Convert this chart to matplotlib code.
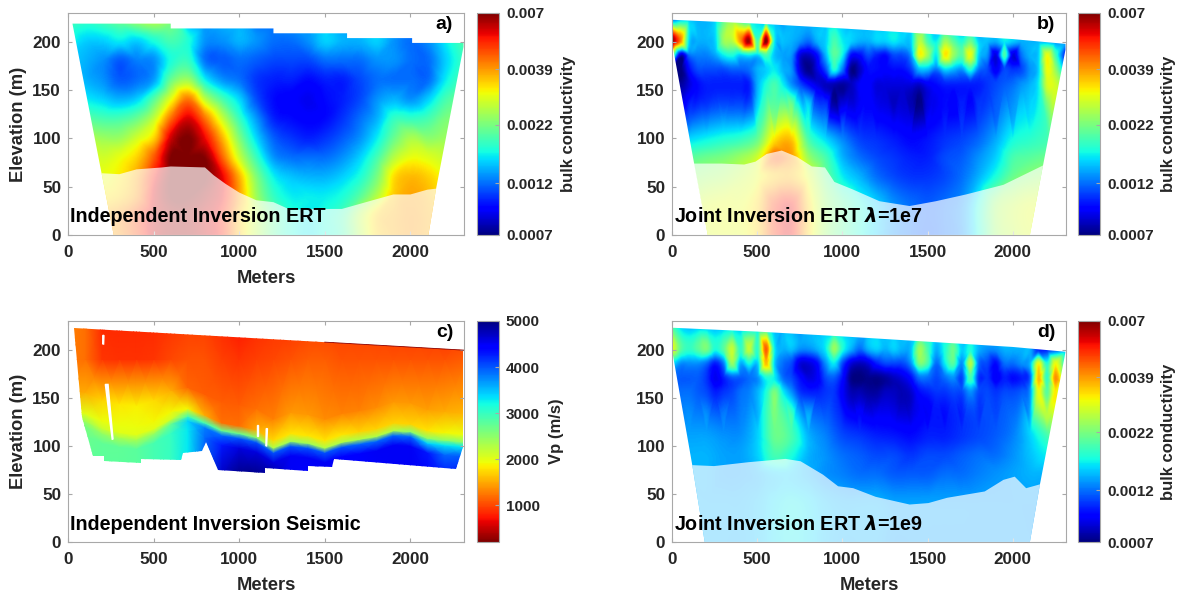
import numpy as np
import matplotlib
matplotlib.use("Agg")
import matplotlib.pyplot as plt
import matplotlib.tri as mtri
from matplotlib.cm import ScalarMappable
from matplotlib.colors import LogNorm, Normalize
from matplotlib.patches import Polygon

plt.rcParams['font.family'] = ['Liberation Sans', 'DejaVu Sans']
plt.rcParams['font.weight'] = 'bold'

W, H = 1182, 599
x_fine = list(range(0, 2300, 50)) + [2320]
x_coarse = list(range(0, 2300, 100)) + [2320]

# conductivities below are in units of 1e-3
# panel a, every row on x_coarse
a_y = [220, 200, 180, 160, 140, 120, 100, 80, 60, 40, 20, 0]
a_rows = [
    [1.9,1.8,1.9,2.1,2.4,2.6,2.2,1.4,1.3,1.4,1.4,1.2,1.2,1.3,1.3,1.5,1.3,1.4,1.5,1.3,1.3,1.4,1.8,2.0],
    [1.7,1.5,1.5,1.6,1.5,1.7,1.9,1.7,1.3,1.3,1.4,1.3,1.2,1.2,1.3,1.5,1.4,1.4,1.5,1.3,1.2,1.3,1.6,2.0],
    [1.5,1.4,1.3,1.15,1.25,1.3,1.7,1.8,1.2,1.15,1.2,1.15,1.1,1.1,1.1,1.2,1.2,1.2,1.3,1.3,1.2,1.2,1.5,1.9],
    [1.6,1.4,1.3,1.15,1.2,1.35,2.1,2.4,1.6,1.3,1.2,1.05,1.0,1.0,0.95,1.0,1.0,1.1,1.2,1.2,1.2,1.2,1.6,2.0],
    [1.8,1.6,1.5,1.4,1.5,2.0,3.0,4.2,2.6,1.9,1.5,1.1,.95,.92,.88,.95,1.0,1.1,1.3,1.4,1.3,1.5,1.9,2.2],
    [2.1,2.0,1.9,1.9,2.1,2.7,4.4,5.8,4.2,2.7,1.8,1.3,1.0,.95,.92,.95,1.05,1.2,1.4,1.8,1.8,1.9,2.2,2.3],
    [2.6,2.6,2.4,2.4,2.8,3.4,6.0,7.0,5.5,3.6,2.2,1.5,1.15,1.05,1.0,1.05,1.15,1.3,1.6,2.1,2.5,2.3,2.4,2.4],
    [3.0,3.0,2.8,3.0,3.4,4.6,7.0,7.0,6.8,4.4,2.7,1.8,1.3,1.2,1.2,1.2,1.3,1.5,1.9,2.6,3.0,2.9,2.7,2.5],
    [3.0,3.0,3.0,3.2,3.8,5.4,7.0,7.0,7.0,5.6,3.6,2.2,1.6,1.45,1.4,1.4,1.5,1.7,2.2,3.3,3.6,3.4,3.0,2.6],
    [3.0,3.0,3.2,3.4,4.0,5.8,7.0,7.0,6.5,5.6,3.8,2.4,1.8,1.6,1.6,1.6,1.7,2.0,2.6,3.5,3.8,3.6,3.2,2.8],
    [3.0,3.0,3.6,4.0,4.8,6.0,6.5,6.5,6.0,5.2,3.5,2.6,2.0,1.7,1.6,1.7,1.9,2.6,3.4,3.7,3.9,3.7,3.5,3.0],
    [3.0,3.0,3.6,4.0,4.8,6.0,6.5,6.5,6.0,5.2,3.5,2.6,2.0,1.7,1.6,1.7,1.9,2.6,3.4,3.7,3.9,3.7,3.5,3.0],
]
a_out_x = [26, 196, 267, 2105, 2150, 2310, 2310, 2010, 2010, 1630, 1630, 1200, 1200, 600, 600, 26]
a_out_y = [219, 64, 0, 0, 48, 195, 199, 199, 204, 204, 209, 209, 214, 214, 219, 219]
a_doi_x = [196,300,400,550,600,800,850,920,1000,1100,1200,1300,1400,1550,1600,1700,1800,1900,2000,2100,2150]
a_doi_y = [64,63,68,70,71,70,62,53,44,36,34,26,27,27,27,32,37,42,42,47,48]

# panel b, shallow rows on x_fine, deep rows on x_coarse
b_fine_y = [224, 200, 185, 170, 155]
b_fine = [
    [1.1,1.3,1.4,1.4,1.4,1.5,2.0,2.2,1.7,1.5,1.5,1.4,1.4,1.3,1.4,1.4,1.4,1.4,1.4,1.5,1.4,1.35,1.35,1.35,1.35,1.35,1.35,1.35,1.35,1.35,1.35,1.35,1.35,1.35,1.35,1.35,1.35,1.35,1.35,1.35,1.35,1.35,1.35,1.35,1.35,1.35,1.35],
    [7.0,4.0,1.5,1.4,1.4,1.5,2.4,2.6,4.0,6.5,1.9,7.0,1.6,1.45,1.4,1.3,1.2,1.4,1.5,1.9,1.6,1.5,1.4,1.4,1.5,1.5,1.6,1.5,1.5,2.6,1.9,1.6,2.4,2.0,1.7,2.1,1.5,1.45,1.4,1.6,1.5,1.4,1.4,1.4,1.4,1.3,1.3],
    [2.2,.8,1.2,1.25,1.25,1.35,1.6,1.7,1.5,1.6,1.5,1.9,1.45,1.35,1.3,.85,.8,.95,1.4,2.0,1.6,.95,.95,1.1,1.0,.95,1.1,1.1,1.3,3.0,2.4,1.6,3.2,2.4,2.0,3.0,1.5,1.3,.85,1.9,.85,1.2,1.4,1.5,3.0,1.9,.85],
    [.75,.7,.95,1.1,1.1,1.1,1.1,1.15,1.15,1.2,1.4,1.5,1.6,1.4,1.3,.85,.72,.85,1.1,1.7,1.2,.72,.8,.95,.95,.92,.95,.95,1.05,1.4,1.4,1.2,1.5,1.4,1.3,1.7,1.2,1.1,.9,1.1,1.05,1.1,1.3,1.5,3.0,2.4,1.2],
    [.8,.75,.85,.95,1.0,1.0,1.0,1.0,1.0,1.0,1.4,1.7,1.9,1.6,1.3,1.1,.95,.85,.8,.78,.75,.8,.9,.92,.85,.85,.85,.85,.85,.82,.9,.95,1.0,1.0,1.0,1.0,1.0,1.05,1.1,1.15,1.2,1.3,1.4,1.6,2.8,2.8,2.0],
]
b_coarse_y = [135, 115, 95, 80, 60, 30, 0]
b_coarse = [
    [1.0,1.0,1.05,1.1,1.1,1.5,2.0,2.1,1.5,1.05,.85,.9,.88,.8,.78,.85,.95,1.0,1.05,1.15,1.3,1.5,2.2,2.6],
    [1.2,1.2,1.3,1.4,1.4,1.8,2.4,2.6,1.7,1.3,1.1,1.0,.95,.9,.88,.92,1.0,1.05,1.1,1.2,1.4,1.6,1.9,2.0],
    [1.5,1.6,1.7,1.8,1.9,2.2,3.4,3.6,2.0,1.6,1.3,1.1,1.05,1.0,.95,.98,1.05,1.1,1.2,1.4,1.7,1.8,1.9,2.0],
    [1.9,2.0,2.1,2.2,2.4,2.8,4.5,3.9,2.4,1.9,1.4,1.2,1.1,1.05,1.0,1.0,1.1,1.15,1.3,1.5,1.9,2.0,2.1,2.2],
    [2.2,2.3,2.4,2.5,2.7,3.0,3.5,3.6,2.9,2.1,1.6,1.4,1.2,1.1,1.05,1.05,1.1,1.2,1.4,1.7,2.1,2.3,2.4,2.4],
    [2.6,2.7,2.9,3.0,3.0,3.4,5.0,5.5,3.4,2.4,2.0,1.7,1.5,1.3,1.2,1.15,1.2,1.3,1.7,2.4,2.7,2.9,2.8,2.6],
    [2.6,2.7,2.9,3.0,3.0,3.4,5.0,5.5,3.4,2.4,2.0,1.7,1.5,1.3,1.2,1.15,1.2,1.3,1.7,2.4,2.7,2.9,2.8,2.6],
]
b_out_x = [0, 0, 15, 130, 210, 2101, 2178, 2310, 2310, 2000, 1500, 1000, 500, 0]
b_out_y = [223, 200, 185, 74, 0, 0, 72, 192, 198, 203, 208.5, 214, 219, 223]
b_doi_x = [126,291,424,490,556,644,733,821,898,953,1064,1218,1395,1549,1726,1946,2178]
b_doi_y = [74,74,73,76,84,87.5,81,71,70,55,47,35,30,35,42,52,72]

# panel d
d_fine_y = [224, 200, 185, 170, 155]
d_fine = [
    [1.9,1.5,1.4,1.45,1.45,1.4,1.45,1.5,1.4,1.45,1.4,1.6,1.4,1.4,1.4,1.3,1.4,1.4,1.4,1.4,1.4,1.4,1.4,1.4,1.4,1.4,1.4,1.4,1.4,1.4,1.4,1.4,1.4,1.4,1.4,1.4,1.4,1.4,1.4,1.4,1.4,1.4,1.4,1.4,1.4,1.4,1.4],
    [3.0,2.0,1.8,2.0,2.2,1.7,2.0,2.7,1.8,2.7,1.8,4.5,1.6,1.4,1.45,1.3,1.3,1.4,1.6,2.4,1.7,1.4,1.2,1.4,1.5,1.4,1.5,1.4,1.45,2.4,1.9,1.4,1.7,2.1,1.5,1.7,1.4,1.3,1.3,1.4,1.4,1.4,1.4,1.0,1.0,1.1,1.3],
    [1.6,1.3,1.3,1.3,1.2,1.0,1.25,2.4,1.4,1.7,1.5,3.6,1.5,1.2,1.1,.85,.85,.95,1.3,1.6,1.1,.85,.8,.85,1.0,1.1,1.1,1.1,1.3,2.2,1.9,1.2,1.6,2.0,1.3,2.6,1.2,1.1,.95,1.2,1.2,1.3,1.4,3.0,1.7,3.0,1.4],
    [1.2,1.15,1.15,1.15,1.05,.88,1.0,1.15,1.15,1.2,1.3,1.7,1.6,1.2,1.1,.95,.85,.9,1.1,1.15,.95,.72,.7,.72,.72,.75,.8,.85,.95,1.2,1.2,1.1,1.2,1.3,1.1,1.9,1.05,1.05,.9,1.0,.95,1.0,1.15,3.6,1.8,4.0,1.5],
    [1.2,1.2,1.2,1.15,1.1,1.0,1.05,1.1,1.2,1.25,1.4,1.7,2.2,1.6,1.3,1.05,1.0,1.0,1.05,1.05,.9,.78,.78,.75,.75,.8,.8,.78,.82,.95,1.0,1.05,1.05,1.1,1.1,1.3,1.1,1.1,1.05,1.1,1.1,1.15,1.3,3.0,2.0,3.2,1.5],
]
d_coarse_y = [130, 110, 90, 70, 40, 0]
d_coarse = [
    [1.3,1.3,1.3,1.25,1.25,1.4,2.2,1.9,1.4,1.15,1.0,.95,.9,.88,.85,.9,.95,1.0,1.05,1.1,1.2,1.4,2.6,2.0],
    [1.35,1.35,1.35,1.3,1.3,1.5,2.1,1.9,1.4,1.25,1.1,1.05,1.0,.98,.95,1.0,1.0,1.05,1.1,1.15,1.25,1.5,1.9,1.7],
    [1.4,1.4,1.4,1.35,1.35,1.5,1.9,1.7,1.4,1.3,1.2,1.15,1.1,1.1,1.05,1.1,1.1,1.15,1.2,1.2,1.3,1.45,1.6,1.5],
    [1.4,1.4,1.4,1.35,1.35,1.4,1.5,1.5,1.4,1.3,1.25,1.2,1.2,1.15,1.15,1.15,1.2,1.2,1.25,1.3,1.35,1.4,1.4,1.4],
    [1.4,1.4,1.4,1.4,1.4,1.45,1.55,1.6,1.55,1.45,1.4,1.4,1.4,1.35,1.35,1.35,1.35,1.35,1.35,1.35,1.35,1.35,1.35,1.35],
    [1.4,1.4,1.4,1.4,1.4,1.45,1.55,1.6,1.55,1.45,1.4,1.4,1.4,1.35,1.35,1.35,1.35,1.35,1.35,1.35,1.35,1.35,1.35,1.35],
]
d_out_x = [0, 0, 119, 192, 2101, 2160, 2304, 2310, 2000, 1500, 1000, 500, 0]
d_out_y = [223, 200, 80, 0, 0, 60, 192, 198, 203, 208.5, 214, 219, 223]
d_doi_x = [119,247,446,666,755,887,975,1064,1196,1395,1505,1615,1836,1946,2012,2079,2160]
d_doi_y = [80,79,83,86.5,84,70,58,56,47,39,40.5,46,52.6,64.7,68,56,60]

# panel c, velocity layers that follow the high velocity interface
c_iface = [129,126,118,114,112,118,128,131,124,116,113,109,98,105,103,98,104,107,110,116,115,108,106,104]
c_top = [1300,1200,850,850,850,850,900,950,950,850,750,850,900,900,950,950,950,950,950,900,900,900,850,850]
c_upper = [1250,1200,900,880,880,900,1000,1050,1050,950,900,950,1000,1050,1100,1100,1050,1050,1050,1050,1050,1050,1050,1100]
c_above = [1400,1500,1700,1800,1850,1750,1500,1150,1100,1100,1100,1200,1300,1400,1400,1350,1300,1300,1350,1400,1400,1450,1500,1550]
c_near = [2000,2000,1950,1950,1950,1900,1900,1900,1500,1200,1200,1500,1750,1800,1800,1800,1800,1700,1700,1700,1700,1800,1900,1950]
c_at = [2500,2400,2150,2000,2000,2000,2100,2900,2900,2700,2700,2500,2300,2400,2400,2300,2300,2300,2300,2300,2500,2500,2500,2500]
c_below = [2600,2600,2450,2300,2300,2400,2700,3400,3800,3900,4000,4000,4000,4000,4000,4000,4000,3900,3900,3900,3900,3400,3300,3300]
c_deep = [2700,2700,2750,2750,2800,2900,3000,3300,3900,4300,4600,4600,4600,4500,4500,4500,4400,4400,4500,4500,4500,4300,3900,4000]
c_base = [2800,2800,2800,2800,2800,2900,3000,3300,4000,4700,4950,4950,4850,4500,4400,4500,4400,4400,4400,4500,4500,4400,4300,4300]
c_out_x = [35,80,146,212,212,424,424,660,671,781,808,876,1152,1152,1399,1404,1543,1554,2267,2310,2310]
c_out_y = [223,130,89,89,84,82,86.5,85.5,93,95,104,75,72,77,74,79,78,86,76,99,199.7]
c_slits = [
    ([203,210,208,203], [215,215,206,206]),
    ([218,234,263,258], [164,164,107,107]),
    ([1103,1108,1108,1103], [122,122,110,110]),
    ([1158,1165,1160,1156], [118,118,100,100]),
]

cond_ticks = [0.0007, 0.0012, 0.0022, 0.0039, 0.007]
cond_labels = ['0.0007', '0.0012', '0.0022', '0.0039', '0.007']
vp_ticks = [1000, 2000, 3000, 4000, 5000]
x_ticks = [0, 500, 1000, 1500, 2000]
y_ticks = [0, 50, 100, 150, 200]
GRAY = '#a8a8a8'
TXT = '#262626'


def make_axes(fig, l, r, t, b):
    return fig.add_axes([l / W, 1 - b / H, (r - l) / W, (b - t) / H])


def style(ax, xlabel, ylabel):
    ax.set_xlim(0, 2313)
    ax.set_ylim(0, 230)
    ax.set_aspect('auto')
    ax.set_xticks(x_ticks)
    ax.set_yticks(y_ticks)
    ax.tick_params(direction='in', length=3, color=GRAY, labelsize=12.3, labelcolor=TXT, top=True, right=True)
    ax.tick_params(axis='x', pad=7)
    ax.tick_params(axis='y', pad=5)
    for s in ax.spines.values():
        s.set_color(GRAY)
    if xlabel:
        ax.set_xlabel('Meters', fontsize=13.2, color=TXT, fontweight='bold', va='center')
        ax.xaxis.set_label_coords(0.5, -0.195)
    if ylabel:
        ax.set_ylabel('Elevation (m)', fontsize=13.2, color=TXT, fontweight='bold', va='center')
        ax.yaxis.set_label_coords(-0.125, 0.5)


def draw_field(ax, px, py, pv, out_x, out_y, doi_x, doi_y):
    # smooth surface through the picked values, then one image clipped to the section
    tr = mtri.Triangulation(px, py)
    smooth = mtri.CubicTriInterpolator(tr, np.log10(pv), kind='geom')
    gx, gy = np.meshgrid(np.arange(0, 2320, 6.0), np.arange(0, 225, 1.0))
    img = ax.imshow(smooth(gx, gy), origin='lower', extent=[0, 2320, 0, 225], cmap='jet',
                    vmin=np.log10(0.7), vmax=1 + np.log10(0.7), interpolation='bilinear')
    clip = Polygon(np.column_stack([out_x, out_y]), closed=True, facecolor='none', edgecolor='none')
    ax.add_patch(clip)
    img.set_clip_path(clip)
    # zone below depth of investigation is washed out
    i0 = list(out_y).index(0)
    wx = doi_x + [out_x[i0 + 1], out_x[i0]]
    wy = doi_y + [0, 0]
    ax.fill(wx, wy, facecolor='white', edgecolor='none', alpha=0.7, zorder=3)


def points(rows_y, rows, xs):
    px, py, pv = [], [], []
    for y, row in zip(rows_y, rows):
        px.extend(xs)
        py.extend([y] * len(xs))
        pv.extend(row)
    return px, py, pv


def finish_bar(cb, label, label_x, width):
    cb.ax.tick_params(length=3, direction='in', color=GRAY, labelsize=11, labelcolor=TXT, pad=5)
    cb.outline.set_edgecolor(GRAY)
    cb.set_label(label, fontsize=12, color=TXT, fontweight='bold', va='center')
    cb.ax.yaxis.set_label_coords(label_x / width, 0.5)


def cond_bar(fig, l, r, t, b, label_x):
    cax = make_axes(fig, l, r, t, b)
    sm = ScalarMappable(norm=LogNorm(0.0007, 0.007), cmap='jet')
    cb = fig.colorbar(sm, cax=cax)
    cb.set_ticks(cond_ticks, labels=cond_labels)
    cb.minorticks_off()
    finish_bar(cb, 'bulk conductivity', label_x, r - l)


fig = plt.figure(figsize=(W / 100, H / 100), dpi=100)

# a
ax = make_axes(fig, 68, 464, 13, 235)
px, py, pv = points(a_y, a_rows, x_coarse)
draw_field(ax, px, py, pv, a_out_x, a_out_y, a_doi_x, a_doi_y)
style(ax, True, True)
ax.text(10, 19, 'Independent Inversion ERT', fontsize=14.2, color='black', va='center', zorder=5)
ax.text(2250, 218, 'a)', fontsize=14, color='black', ha='right', va='center', zorder=5)
cond_bar(fig, 477, 499, 13, 235, 92)

# b
ax = make_axes(fig, 672, 1066, 13, 235)
p1 = points(b_fine_y, b_fine, x_fine)
p2 = points(b_coarse_y, b_coarse, x_coarse)
draw_field(ax, p1[0] + p2[0], p1[1] + p2[1], p1[2] + p2[2], b_out_x, b_out_y, b_doi_x, b_doi_y)
style(ax, False, False)
ax.text(10, 19, r'Joint Inversion ERT $\lambda$=1e7', fontsize=14.2, color='black', va='center', zorder=5)
ax.text(2250, 218, 'b)', fontsize=14, color='black', ha='right', va='center', zorder=5)
cond_bar(fig, 1078, 1100, 13, 235, 91)

# c
ax = make_axes(fig, 68, 464, 321, 542)
iface = np.array(c_iface, dtype=float)
layer_y = [np.full(24, 70.0), iface - 15, iface - 5, iface, iface + 8, iface + 30, np.full(24, 190.0), np.full(24, 225.0)]
layer_v = [c_base, c_deep, c_below, c_at, c_near, c_above, c_upper, c_top]
X = np.tile(np.array(x_coarse, dtype=float), (8, 1))
mesh = ax.pcolormesh(X, np.array(layer_y), np.array(layer_v, dtype=float), cmap='jet_r', vmin=200, vmax=5000, shading='gouraud')
clip = Polygon(np.column_stack([c_out_x, c_out_y]), closed=True, facecolor='none', edgecolor='none')
ax.add_patch(clip)
mesh.set_clip_path(clip)
for sx, sy in c_slits:
    ax.fill(sx, sy, color='white', zorder=3)
ax.plot([1500, 2310], [208, 199.7], color='#8b0000', lw=0.6, zorder=3)
style(ax, True, True)
ax.text(10, 18, 'Independent Inversion Seismic', fontsize=14.2, color='black', va='center', zorder=5)
ax.text(2250, 218, 'c)', fontsize=14, color='black', ha='right', va='center', zorder=5)
cax = make_axes(fig, 477, 499, 321, 542)
cb = fig.colorbar(ScalarMappable(norm=Normalize(200, 5000), cmap='jet_r'), cax=cax)
cb.set_ticks(vp_ticks)
finish_bar(cb, 'Vp (m/s)', 80, 22)

# d
ax = make_axes(fig, 672, 1066, 321, 542)
p1 = points(d_fine_y, d_fine, x_fine)
p2 = points(d_coarse_y, d_coarse, x_coarse)
draw_field(ax, p1[0] + p2[0], p1[1] + p2[1], p1[2] + p2[2], d_out_x, d_out_y, d_doi_x, d_doi_y)
style(ax, True, False)
ax.text(10, 18, r'Joint Inversion ERT $\lambda$=1e9', fontsize=14.2, color='black', va='center', zorder=5)
ax.text(2250, 218, 'd)', fontsize=14, color='black', ha='right', va='center', zorder=5)
cond_bar(fig, 1078, 1100, 321, 542, 91)

fig.savefig('out.png', dpi=100)
